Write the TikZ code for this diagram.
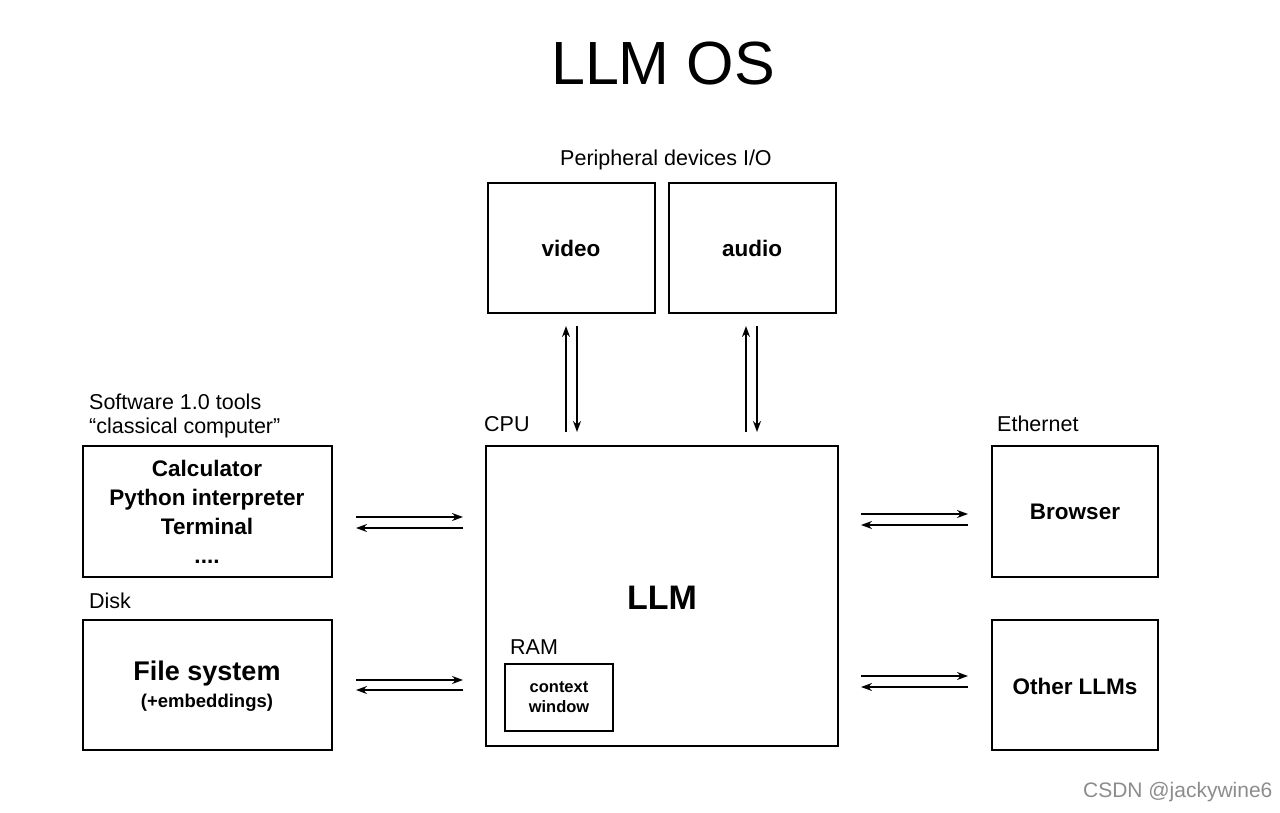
\documentclass[tikz,border=0pt]{standalone}
\usepackage{fontspec}
\setmainfont{Liberation Sans}
\usetikzlibrary{arrows.meta}
\begin{document}
\begin{tikzpicture}[x=1pt,y=-1pt,
  box/.style={draw,line width=1.2pt,inner sep=0},
  lbl/.style={font=\fontsize{21.5}{24}\selectfont,anchor=west,inner sep=0},
  bt/.style={font=\fontsize{22.5}{26}\selectfont\bfseries,align=center},
  ar/.style={line width=1.5pt,-{Stealth[length=11pt,width=8pt]}}]
\useasboundingbox (0,0) rectangle (1280,813);
\node[font=\fontsize{61}{70}\selectfont] (title) at (663,64) {LLM OS};
% boxes
\draw[box] (488,183) rectangle (655,313); \node[bt] (video) at (571,248) {video};
\draw[box] (669,183) rectangle (836,313); \node[bt] (audio) at (752,248) {audio};
\node[lbl,anchor=center] (per) at (666,160) {Peripheral devices I/O};
\draw[box] (486,446) rectangle (838,746);
\node[font=\fontsize{34}{38}\selectfont\bfseries] (llm) at (662,598) {LLM};
\node[lbl] (cpu) at (484,424) {CPU};
\node[lbl] (ram) at (510,647) {RAM};
\draw[box] (505,664) rectangle (613,731);
\node[font=\fontsize{16.5}{20}\selectfont\bfseries,align=center] (ctx) at (559,697) {context\\window};
\draw[box] (83,446) rectangle (332,577);
\node[bt,font=\fontsize{22.5}{29}\selectfont\bfseries] (tools) at (207,512) {Calculator\\Python interpreter\\Terminal\\....};
\node[lbl] (sw) at (89,402) {Software 1.0 tools};
\node[lbl] (cc) at (89,428) {“classical computer”};
\draw[box] (83,620) rectangle (332,750);
\node[font=\fontsize{27}{31}\selectfont\bfseries] (fs) at (207,674) {File system};
\node[font=\fontsize{18.5}{21}\selectfont\bfseries] (emb) at (207,703) {(+embeddings)};
\node[lbl] (disk) at (89,601) {Disk};
\draw[box] (992,446) rectangle (1158,577); \node[bt] (br) at (1075,512) {Browser};
\draw[box] (992,620) rectangle (1158,750); \node[bt] (ol) at (1075,686) {Other LLMs};
\node[lbl] (eth) at (997,424) {Ethernet};
% arrows
\draw[ar] (356,517) -- (463,517); \draw[ar] (463,528) -- (356,528);
\draw[ar] (356,680) -- (463,680); \draw[ar] (463,690) -- (356,690);
\draw[ar] (861,514) -- (968,514); \draw[ar] (968,525) -- (861,525);
\draw[ar] (861,676) -- (968,676); \draw[ar] (968,687) -- (861,687);
\draw[ar] (566,432) -- (566,326); \draw[ar] (577,326) -- (577,432);
\draw[ar] (746,432) -- (746,326); \draw[ar] (757,326) -- (757,432);
\node[font=\fontsize{21}{24}\selectfont,text=black!45,anchor=east] (wm) at (1276,792) {CSDN @jackywine6};
\end{tikzpicture}
\end{document}
